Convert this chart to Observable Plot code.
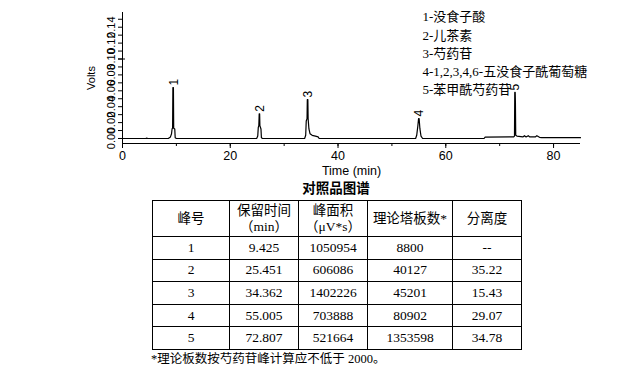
<!DOCTYPE html>
<html><head><meta charset="utf-8">
<script src="https://cdn.jsdelivr.net/npm/d3@7"></script>
<script src="https://cdn.jsdelivr.net/npm/@observablehq/plot@0.6"></script>
<style>
body{margin:0;background:#fff;width:635px;height:368px;position:relative;overflow:hidden;}
#chart{position:absolute;left:0;top:0;}
#title{position:absolute;left:286px;top:181px;width:100px;text-align:center;font-family:"Noto Sans CJK SC";font-weight:bold;font-size:13.5px;line-height:13px;}
table{position:absolute;left:152px;top:200px;border-collapse:collapse;font-family:"Liberation Serif","Noto Sans CJK SC";font-size:13.5px;color:#000;}
td{border:1px solid #000;text-align:center;padding:0;line-height:16px;}
tr.h td{height:35px;}
tr.r td{height:21.6px;}
#note{position:absolute;left:151px;top:351px;font-family:"Liberation Serif","Noto Sans CJK SC";font-size:12.5px;line-height:17px;white-space:nowrap;}
</style></head>
<body>
<div id="chart"></div>
<div id="title"></div>
<table id="tbl"></table>
<div id="note"></div>
<script>
// chromatogram trace (time in min, signal in volts)
const traceT = [0,4.3,4.5,4.7,8.5,8.9,9.1,9.2,9.3,9.35,9.45,9.5,9.7,9.78,10.0,
  24.9,25.1,25.2,25.3,25.37,25.45,25.5,25.7,25.78,26.0,
  33.8,34.0,34.1,34.25,34.3,34.4,34.45,34.6,34.8,35.2,35.8,36.3,36.5,
  54.4,54.6,54.8,54.95,55.05,55.2,55.4,55.7,
  67.1,67.3,72.6,72.75,72.8,72.88,72.92,72.98,73.2,74.3,74.6,74.9,75.3,75.6,76.6,76.9,77.4,77.8,85];
const traceV = [0,0,0.0004,0,0,0.002,0.006,0.012,0.013,0.064,0.064,0.013,0.012,0.001,0,
  0,0.003,0.014,0.016,0.031,0.031,0.016,0.012,0.001,0,
  0,0.004,0.022,0.025,0.049,0.049,0.025,0.012,0.006,0.004,0.003,0.002,0,
  0,0.004,0.015,0.025,0.025,0.012,0.003,0,
  0,0.0018,0.002,0.003,0.058,0.058,0.046,0.004,0.003,0.002,0.0035,0.002,0.0035,0.002,0.002,0.0035,0.0015,0.001,0.001];
// peak labels
const peakLabel = ["1","2","3","4","5"];
const peakTime = [9.425, 25.451, 34.362, 55.005, 72.807];
const peakTop = [0.064, 0.031, 0.049, 0.025, 0.058];
// legend
const legendLines = ["1-没食子酸","2-儿茶素","3-芍药苷","4-1,2,3,4,6-五没食子酰葡萄糖","5-苯甲酰芍药苷"];
// axes
const xMinorTicks = [0,10,20,30,40,50,60,70,80];
const xMajorTicks = [0,20,40,60,80];
const yMinorTicks = [0,0.01,0.02,0.03,0.04,0.05,0.06,0.07,0.08,0.09,0.10,0.11,0.12,0.13,0.14,0.15];
const yLabelTicks = [0,0.02,0.04,0.06,0.08,0.10,0.12,0.14];
const yCrossTicks = [0,0.10];
// table
const chartTitle = "对照品图谱";
const tableHeader = ["峰号","保留时间<br>（min）","峰面积<br>（μV*s）","理论塔板数*","分离度"];
const peakNo = ["1","2","3","4","5"];
const retention = ["9.425","25.451","34.362","55.005","72.807"];
const area = ["1050954","606086","1402226","703888","521664"];
const plates = ["8800","40127","45201","80902","1353598"];
const resolution = ["--","35.22","15.43","29.07","34.78"];
const footnote = "*理论板数按芍药苷峰计算应不低于 2000。";

const trace = traceT.map((t,i)=>({t, v: traceV[i]}));
const peaks = peakLabel.map((n,i)=>({n, t: peakTime[i], v: peakTop[i]}));

const W = 635, ML = 122, MR = 55;
const frameW = W - ML - MR;

const chart = Plot.plot({
  width: W, height: 178,
  marginLeft: ML, marginRight: MR, marginTop: 12, marginBottom: 35,
  x: {domain: [0, 85]},
  y: {domain: [-0.0063, 0.1585]},
  style: {fontFamily: "'Liberation Sans', Arial, sans-serif", fontSize: "12px", background: "#fff", color: "#000"},
  marks: [
    Plot.ruleY([-0.0063], {stroke: "#000"}),
    Plot.ruleX([0], {stroke: "#000"}),
    Plot.axisX(xMinorTicks, {tickSize: 3, tickFormat: () => "", label: null}),
    Plot.axisX(xMajorTicks, {tickSize: 5, tickPadding: 3, fontSize: 12.5, label: "Time (min)", labelAnchor: "center", labelArrow: "none", labelOffset: 31}),
    Plot.axisY(yMinorTicks, {tickSize: 4, tickFormat: () => "", label: null}),
    Plot.tickY(yCrossTicks, {y: d => d, stroke: "#000", insetRight: frameW - 7, dx: -4}),
    Plot.axisY(yLabelTicks, {tickSize: 0, tickPadding: 8, tickRotate: -90, fontSize: 11, tickFormat: d3.format(".2f"), label: "Volts", labelAnchor: "center", labelArrow: "none", labelOffset: 35}),
    Plot.line(trace, {x: "t", y: "v", stroke: "#000", strokeWidth: 1.2}),
    Plot.text(peaks, {x: "t", y: "v", text: "n", rotate: -90, textAnchor: "start", dy: -2, dx: 0.5, fontSize: 12}),
    Plot.text([legendLines.join("\n")], {frameAnchor: "top-left", dx: 300, dy: -4, lineAnchor: "top", lineHeight: 1.4, fontSize: 13, fontFamily: "'Liberation Serif','Noto Sans CJK SC'"})
  ]
});
document.getElementById("chart").appendChild(chart);
document.getElementById("title").textContent = chartTitle;
const widths = [76, 68, 68, 84, 68];
let html = '<tr class="h">' + tableHeader.map((h,i)=>`<td style="width:${widths[i]}px">${h}</td>`).join("") + "</tr>";
peakNo.forEach((p,i)=>{
  html += `<tr class="r"><td>${p}</td><td>${retention[i]}</td><td>${area[i]}</td><td>${plates[i]}</td><td>${resolution[i]}</td></tr>`;
});
document.getElementById("tbl").innerHTML = html;
document.getElementById("note").textContent = footnote;
</script>
</body></html>
